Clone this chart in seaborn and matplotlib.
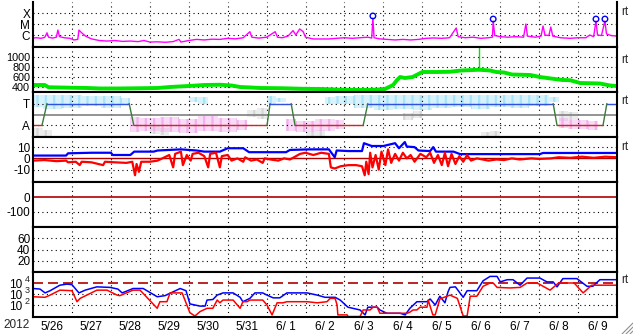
import numpy as np
import pandas as pd
import matplotlib
matplotlib.use("Agg")
import matplotlib.pyplot as plt
import seaborn as sns
from matplotlib.lines import Line2D
from matplotlib.transforms import blended_transform_factory

sns.set_theme(style="white")
plt.rcParams['font.family'] = ['Liberation Sans', 'DejaVu Sans']
plt.rcParams['hatch.linewidth'] = 1.6

# ---------------- data (time in days since 2012-05-26 00:00) ----------------
year_label = "2012"
day_labels = ["5/26", "5/27", "5/28", "5/29", "5/30", "5/31", "6/ 1", "6/ 2",
              "6/ 3", "6/ 4", "6/ 5", "6/ 6", "6/ 7", "6/ 8", "6/ 9"]

# X-ray flux (log10 W/m2)
xray_t = [0.00, 0.10, 0.20, 0.30, 0.36, 0.40, 0.50, 0.60, 0.64, 0.68, 0.80, 0.95, 1.05, 1.15, 1.18,
          1.25, 1.35, 1.50, 1.70, 1.90, 2.10, 2.30, 2.50, 2.70, 2.85, 3.00, 3.20, 3.40, 3.60, 3.75,
          3.80, 4.00, 4.20, 4.40, 4.60, 4.80, 5.00, 5.20, 5.40, 5.57, 5.62, 5.80, 6.00, 6.22, 6.28,
          6.40, 6.55, 6.68, 6.75, 6.85, 6.94, 7.00, 7.20, 7.40, 7.60, 7.80, 8.00, 8.20, 8.40, 8.60,
          8.70, 8.73, 8.76, 8.90, 9.10, 9.30, 9.50, 9.70, 9.90, 10.10, 10.30, 10.50, 10.70, 10.87,
          10.92, 11.10, 11.30, 11.50, 11.70, 11.80, 11.82, 11.86, 12.00, 12.20, 12.40, 12.60, 12.66,
          12.70, 12.90, 13.05, 13.10, 13.15, 13.25, 13.30, 13.35, 13.55, 13.80, 14.00, 14.20, 14.30,
          14.40, 14.46, 14.50, 14.60, 14.69, 14.73, 14.85, 15.00]
xray_logv = [-6.27, -6.25, -6.30, -6.22, -5.80, -6.20, -6.28, -6.20, -5.55, -6.15, -6.25, -6.30, -6.45,
             -6.40, -5.55, -5.80, -6.10, -6.35, -6.50, -6.55, -6.50, -6.58, -6.55, -6.60, -6.50, -6.64,
             -6.62, -6.66, -6.60, -6.40, -6.64, -6.50, -6.40, -6.45, -6.38, -6.40, -6.30, -6.35, -6.25,
             -5.70, -6.20, -6.28, -6.20, -5.70, -6.20, -6.25, -6.10, -5.60, -6.00, -5.45, -5.70, -6.20,
             -6.36, -6.36, -6.36, -6.30, -6.25, -6.30, -6.25, -6.20, -6.28, -4.45, -6.25, -6.35, -6.40,
             -6.45, -6.40, -6.45, -6.40, -6.30, -6.27, -6.30, -6.25, -5.36, -6.15, -6.25, -6.20, -6.30,
             -6.25, -6.20, -4.73, -6.05, -6.15, -6.20, -6.15, -6.20, -5.00, -6.10, -6.20, -6.10, -5.18,
             -6.00, -6.05, -5.27, -6.10, -6.25, -6.30, -6.25, -6.25, -6.00, -6.15, -4.73, -6.00, -6.05,
             -4.73, -5.90, -6.05, -6.10]
flare_t = [8.73, 11.82, 14.46, 14.69]
flare_logv = [-4.45, -4.73, -4.73, -4.73]
xray_ticks = [-4, -5, -6]
xray_ticklabels = ["X", "M", "C"]

# Solar wind speed (km/s)
speed_t = [0.00, 0.30, 0.40, 0.70, 1.00, 1.40, 1.72, 2.20, 2.75, 3.20, 3.52, 4.00, 4.40, 4.80, 5.10,
           5.32, 5.60, 5.83, 6.40, 6.86, 7.40, 7.89, 8.40, 8.80, 9.04, 9.25, 9.35, 9.43, 9.55, 9.75,
           9.90, 10.00, 10.40, 10.71, 11.00, 11.30, 11.46, 11.74, 11.90, 12.10, 12.30,
           12.77, 13.02, 13.30, 13.60, 13.80, 14.05, 14.30, 14.56, 14.82, 15.00]
speed_v = [440, 440, 395, 390, 385, 380, 370, 370, 375, 380, 400, 420, 440, 445, 430,
           400, 390, 380, 375, 365, 360, 345, 340, 345, 360, 440, 540, 600, 580, 600,
           660, 700, 700, 705, 730, 740, 745, 730, 700, 690, 650,
           640, 600, 570, 540, 535, 480, 475, 470, 430, 420]
spike_t = [11.46, 11.46]
spike_v = [745, 1180]
speed_ticks = [1000, 800, 600, 400]

# IMF sector (T = toward, A = away)
sector_t = [0, 0.23, 0.36, 2.47, 2.59, 6.01, 6.09, 6.63, 6.73, 8.48, 8.60, 13.36, 13.46, 14.64, 14.74, 15]
sector_v = [-1, -1, 1, 1, -1, -1, 1, 1, -1, -1, 1, 1, -1, -1, 1, 1]
sector_ticks = [1, -1]
sector_ticklabels = ["T", "A"]
nan = np.nan
band_t = [i * 0.5 for i in range(31)]
cyan_hi = [1.8, 1.8, 1.8, 1.7, 1.7, 1.5, nan, nan, 1.6, 1.6, nan, nan, 1.7, 1.5, nan, 1.6,
           1.7, 1.8, 1.8, 1.8, 1.8, 1.8, 1.8, 1.8, 1.8, 1.8, 1.8, 1.6, nan, nan, 1.8]
cyan_lo = [0.7, 0.5, 0.6, 0.8, 0.6, 1.0, nan, nan, 1.1, 1.0, nan, nan, 1.0, 1.1, nan, 1.0,
           1.0, 0.6, 0.4, 0.5, 0.4, 0.6, 0.7, 0.5, 0.7, 0.6, 0.8, 1.1, nan, nan, 0.6]
pink_hi = [nan, nan, nan, nan, nan, -0.2, -0.3, -0.2, -0.4, -0.1, -0.3, -0.5, nan, -0.4, -0.6, -0.4,
           -0.5, nan, nan, nan, nan, nan, nan, nan, nan, nan, nan, -0.3, -0.5, -0.6, nan]
pink_lo = [nan, nan, nan, nan, nan, -1.6, -1.5, -1.6, -1.7, -1.5, -1.6, -1.4, nan, -1.5, -1.6, -1.5,
           -1.3, nan, nan, nan, nan, nan, nan, nan, nan, nan, nan, -1.2, -1.3, -1.4, nan]
gray_hi = [-1.2, -1.4, nan, nan, nan, nan, -1.0, -1.2, nan, nan, nan, 0.4, 0.6, nan, -1.6, -1.4,
           nan, nan, nan, 0.1, 0.3, nan, nan, -1.6, -1.5, nan, nan, 0.3, 0.2, nan, nan]
gray_lo = [-2.0, -2.0, nan, nan, nan, nan, -1.8, -1.9, nan, nan, nan, -0.2, -0.4, nan, -2.0, -2.0,
           nan, nan, nan, -0.5, -0.3, nan, nan, -2.0, -2.0, nan, nan, -0.6, -0.5, nan, nan]

# IMF Bt (blue) and Bz (red), nT
bt_t = [0.00, 0.85, 0.90, 1.50, 2.00, 2.05, 2.50, 2.60, 3.10, 3.20, 3.50, 3.80, 4.20, 4.40, 4.80,
        5.00, 5.40, 5.55, 6.00, 6.50, 6.60, 7.10, 7.60, 7.75, 7.80, 8.10, 8.45, 8.50, 8.70, 9.00,
        9.30, 9.40, 9.55, 9.60, 9.80, 9.90, 10.20, 10.28, 10.35, 10.80, 10.97, 12.00, 13.02, 13.10,
        14.00, 15.00]
bt_v = [2.5, 2.5, 4.5, 5.0, 5.0, 3.0, 3.0, 6.0, 6.0, 7.0, 7.5, 8.0, 7.0, 6.0, 6.0,
        9.0, 9.0, 5.5, 5.5, 5.5, 7.5, 8.0, 8.0, 1.0, 7.0, 6.5, 6.5, 13.5, 11.0, 11.0,
        13.5, 9.0, 14.5, 10.5, 10.0, 7.0, 6.5, 10.0, 6.0, 6.0, 3.8, 3.8, 3.8, 4.8,
        4.8, 4.8]
bz_t = [0.00, 0.30, 0.60, 0.85, 0.90, 1.10, 1.20, 1.25, 1.50, 1.80, 1.85, 2.10, 2.40, 2.55, 2.62,
        2.66, 2.72, 2.78, 3.00, 3.20, 3.50, 3.60, 3.65, 3.80, 3.85, 3.95, 4.05, 4.10, 4.25, 4.40,
        4.50, 4.55, 4.70, 4.80, 4.85, 5.00, 5.10, 5.25, 5.40, 5.45, 5.60, 5.75, 5.90, 5.95, 6.10,
        6.30, 6.45, 6.60, 6.86, 7.00, 7.20, 7.40, 7.60, 7.65, 7.75, 7.90, 8.10, 8.30, 8.45, 8.52,
        8.56, 8.62, 8.66, 8.72, 8.80, 8.88, 8.95, 9.05, 9.12, 9.20, 9.30, 9.40, 9.50, 9.60, 9.70,
        9.80, 9.95, 10.10, 10.20, 10.30, 10.40, 10.50, 10.58, 10.66, 10.75, 10.85, 10.95, 11.05,
        11.15, 11.25, 11.40, 11.55, 11.70, 11.90, 12.10, 12.30, 12.50, 12.80, 13.00, 13.30, 13.50,
        13.80, 14.10, 14.40, 14.70, 15.00]
bz_v = [-2, -1.5, -2.5, -2, -3.5, -3, -6, -3, -3.5, -6, -3, -3.5, -4, -3, -15,
        -5, -12, -3, -3, -2, 3, -8, 4, 6, -6, 3, -2, 4, 5, 2,
        -8, 4, 5, -8, 2, 3, -2, 0, -3, 1, -2, -1, -4, 0, -1,
        -2, 0, -1, 4, 5, 3, 5, 4, -8, -9, -7, -6, -6, -7, -15,
        -3, -14, 5, -8, 3, -10, 6, -6, 8, -4, 4, -2, 5, 0, 3,
        -3, 4, 1, 5, -4, 3, -6, 5, -7, 4, -5, 2, -3,
        3, -2, 0, -1, -2, -1, -1.5, 0, -1, 0, -0.5, 0, 1,
        0.5, 1.5, 0.5, 1.5, 1]
bz_ticks = [10, 0, -10]

dst_ticks = [0, -100]
kp_ticks = [60, 40, 20]

# Electron flux (log10), blue = high, red = low
ehi_t = [0.00, 0.18, 0.31, 0.44, 0.69, 0.87, 1.00, 1.18, 1.34, 1.64, 1.98, 2.18, 2.29, 2.57, 2.83,
         3.19, 3.39, 3.78, 3.93, 4.03, 4.29, 4.42, 4.47, 4.62, 4.73, 4.88, 5.14, 5.32, 5.39, 5.57,
         5.70, 5.90, 6.01, 6.17, 6.34, 6.52, 7.04, 7.30, 7.50, 7.76, 7.89, 8.09, 8.40, 8.53, 8.60,
         8.84, 8.91, 9.09, 9.43, 9.56, 9.68, 9.86, 10.12, 10.20, 10.33, 10.45, 10.58, 10.66, 10.71,
         10.85, 11.05, 11.15, 11.40, 11.56, 11.74, 11.92, 12.00, 12.18, 12.33, 12.51, 12.69, 13.02,
         13.20, 13.36, 13.46, 13.61, 13.97, 14.23, 14.38, 14.56, 15.00]
ehi_log = [3.50, 3.45, 3.10, 3.30, 3.80, 3.90, 3.85, 3.10, 3.35, 3.65, 3.60, 3.45, 3.10, 3.50, 3.50,
           2.75, 2.85, 3.50, 3.30, 2.10, 1.90, 1.90, 2.45, 2.50, 2.90, 3.10, 3.10, 2.70, 2.30, 2.60,
           3.10, 3.10, 2.90, 2.65, 2.65, 3.10, 3.10, 2.90, 2.70, 2.70, 2.45, 1.80, 1.55, 1.10, 1.80,
           1.80, 1.55, 1.25, 1.25, 1.10, 1.70, 2.30, 2.30, 2.55, 2.00, 2.80, 2.20, 3.20, 3.60,
           3.65, 2.70, 3.30, 3.30, 4.20, 4.60, 4.60, 4.10, 4.30, 4.30, 3.80, 4.45, 4.45,
           4.10, 4.10, 3.65, 4.40, 4.40, 3.70, 3.70, 4.30, 4.30]
elo_t = [0.00, 0.31, 0.44, 0.69, 1.00, 1.13, 1.21, 1.64, 1.90, 2.16, 2.23, 2.57, 2.75, 3.19, 3.26,
         3.44, 3.52, 3.83, 4.03, 4.16, 4.29, 4.47, 4.62, 4.73, 4.80, 4.88, 5.14, 5.32, 5.39, 5.50,
         5.57, 5.90, 6.01, 6.14, 6.27, 6.42, 6.52, 7.04, 7.30, 7.55, 7.63, 7.76, 7.81, 7.83, 8.07,
         8.09, 8.40, 8.48, 8.66, 8.73, 8.84, 8.91, 9.61, 9.68, 9.76, 9.86, 9.94, 10.12, 10.15, 10.27,
         10.33, 10.45, 10.71, 10.90, 11.05, 11.15, 11.23, 11.40, 11.56, 11.74, 11.82, 11.92, 12.25,
         12.51, 12.69, 12.95, 13.28, 13.50, 13.90, 14.13, 14.35, 15.00]
elo_log = [2.75, 2.70, 2.90, 3.35, 3.30, 2.30, 2.60, 3.35, 3.35, 2.90, 2.85, 3.35, 3.35, 1.70, 2.30,
           2.30, 3.10, 3.10, 1.30, 1.00, 1.40, 1.70, 1.70, 2.45, 2.20, 2.45, 2.45, 1.70, 2.30, 2.30,
           2.45, 2.45, 2.00, 1.10, 2.20, 2.20, 2.30, 2.30, 2.20, 2.30, 2.60, 2.60, 2.00, 1.10, 1.10,
           0.95, 0.95, 1.55, 1.55, 1.80, 1.80, 1.25, 1.25, 1.35, 1.55, 1.55, 1.80, 1.80, 2.45, 1.10,
           1.10, 2.55, 2.90, 2.60, 1.00, 1.00, 2.80, 2.80, 3.70, 4.00, 4.00, 3.60, 3.55,
           3.60, 4.00, 4.00, 3.35, 4.00, 4.00, 3.10, 3.80, 3.80]
eflux_ticks = [1e4, 1e3, 1e2]
eflux_exponents = ["4", "3", "2"]

# ---------------- figure ----------------
W, H = 633, 334
FS = 8.5
fig = plt.figure(figsize=(W / 100, H / 100), dpi=100)
x0, x1 = 33, 617
tops = [2, 47, 92, 137, 182, 227, 272]
ph = 45
axes = []
for top in tops:
    ax = fig.add_axes([x0 / W, 1 - (top + ph) / H, (x1 - x0) / W, ph / H])
    axes.append(ax)

DOT = dict(color="black", linestyle=(0, (1, 3)), linewidth=0.8, zorder=0.5)
DARKRED = "#B00000"

for i, ax in enumerate(axes):
    ax.set_xlim(0, 15)
    for s in ax.spines.values():
        s.set_color("black")
        s.set_linewidth(1.5)
    if i == 0:
        ax.spines["top"].set_visible(False)
    for d in range(1, 15):
        ax.axvline(d, **DOT)
    ax.tick_params(axis="both", length=0, labelsize=FS, colors="black", pad=2)
    ax.set_xticks([])
    ax.set_facecolor("white")

def line(ax, t, v, color, lw, **kw):
    sns.lineplot(x=np.asarray(t, float), y=np.asarray(v, float), ax=ax, color=color,
                 linewidth=lw, estimator=None, sort=False, legend=False, **kw)
    ax.set_xlabel("")
    ax.set_ylabel("")

# Panel 1: X-ray
ax = axes[0]
ax.set_ylim(-7.09, -3)
for v in xray_ticks:
    ax.axhline(v, **DOT)
line(ax, xray_t, xray_logv, "#FF00FF", 1.0)
ax.scatter(flare_t, np.array(flare_logv) + 0.18, s=16, facecolors="none",
           edgecolors="#0000FF", linewidths=1.0, zorder=5)
ax.set_yticks(xray_ticks)
ax.set_yticklabels(xray_ticklabels)

# Panel 2: speed
ax = axes[1]
ax.set_ylim(300, 1200)
for v in speed_ticks:
    ax.axhline(v, **DOT)
line(ax, speed_t, speed_v, "#00E600", 2.8)
line(ax, spike_t, spike_v, "#00E600", 1.0)
ax.set_yticks(speed_ticks)
ax.set_yticklabels([str(v) for v in speed_ticks])
ax.tick_params(axis="y", labelsize=7.8)

# Panel 3: sector
ax = axes[2]
ax.set_ylim(-2.05, 2.05)
for lo, hi, col in [(gray_lo, gray_hi, "#D6D6D6"), (cyan_lo, cyan_hi, "#A8E4F8"), (pink_lo, pink_hi, "#F2B0EE")]:
    ax.fill_between(band_t, lo, hi, step="mid", facecolor=col, alpha=0.45, linewidth=0, zorder=0.3)
    ax.fill_between(band_t, lo, hi, step="mid", facecolor="none", edgecolor=col, hatch="||",
                    linewidth=0, zorder=0.35)
for v in sector_ticks:
    ax.axhline(v, **DOT)
ax.axhline(0, color="#808080", linewidth=1.2, zorder=1)
for k in range(len(sector_t) - 1):
    a, b = sector_v[k], sector_v[k + 1]
    c = "#3050E0" if (a == 1 and b == 1) else ("#E02020" if (a == -1 and b == -1) else "#3A7A3A")
    line(ax, sector_t[k:k + 2], sector_v[k:k + 2], c, 1.0)
ax.set_yticks(sector_ticks)
ax.set_yticklabels(sector_ticklabels)

# Panel 4: IMF
ax = axes[3]
ax.set_ylim(-21, 19)
for v in [10, -10]:
    ax.axhline(v, **DOT)
ax.axhline(0, color=DARKRED, linewidth=1.0, zorder=1)
line(ax, bt_t, bt_v, "#0000FF", 1.6)
line(ax, bz_t, bz_v, "#FF0000", 1.6)
ax.set_yticks(bz_ticks)
ax.set_yticklabels([str(v) for v in bz_ticks])

# Panel 5: Dst (no data)
ax = axes[4]
ax.set_ylim(-200, 100)
ax.axhline(-100, **DOT)
ax.axhline(0, color=DARKRED, linewidth=1.2, zorder=1)
ax.set_yticks(dst_ticks)
ax.set_yticklabels([str(v) for v in dst_ticks])

# Panel 6: (no data)
ax = axes[5]
ax.set_ylim(0, 80)
for v in kp_ticks:
    ax.axhline(v, **DOT)
ax.set_yticks(kp_ticks)
ax.set_yticklabels([str(v) for v in kp_ticks])

# Panel 7: electron flux
ax = axes[6]
ax.set_yscale("log")
ax.set_ylim(10 ** 0.91, 1e5)
for v in [1e3, 1e2]:
    ax.axhline(v, **DOT)
ax.axhline(1e4, color=DARKRED, linewidth=1.2, linestyle=(0, (6, 3)), zorder=1)
line(ax, ehi_t, 10 ** np.array(ehi_log), "#0000FF", 1.1)
line(ax, elo_t, 10 ** np.array(elo_log), "#FF0000", 1.1)
ax.minorticks_off()
ax.set_yticks(eflux_ticks)
ax.set_yticklabels(["10"] * len(eflux_ticks))
ax.tick_params(axis="y", pad=8)
tr = blended_transform_factory(ax.transAxes, ax.transData)
for v, e in zip(eflux_ticks, eflux_exponents):
    ax.text(-0.006, v * 10 ** 0.28, e, transform=tr, fontsize=6.5, ha="right", va="center")
ax.set_xticks(np.arange(15) + 0.5)
ax.set_xticklabels(day_labels)
ax.tick_params(axis="x", length=0, labelsize=FS, pad=3)

fig.text(3 / W, 1 - 325 / H, year_label, fontsize=FS, va="center", ha="left")

# right-side markers
for yy in [12, 60, 101, 147, 280]:
    fig.text(621 / W, 1 - yy / H, "rt", fontsize=FS, va="center", ha="left")

# resize grip
for off in [0, 4, 8]:
    fig.add_artist(Line2D([(622 + off) / W, 633 / W], [1 - 334 / H, 1 - (323 + off) / H],
                          color="#909090", linewidth=0.8, transform=fig.transFigure))

fig.savefig("out.png", dpi=100, facecolor="white")
